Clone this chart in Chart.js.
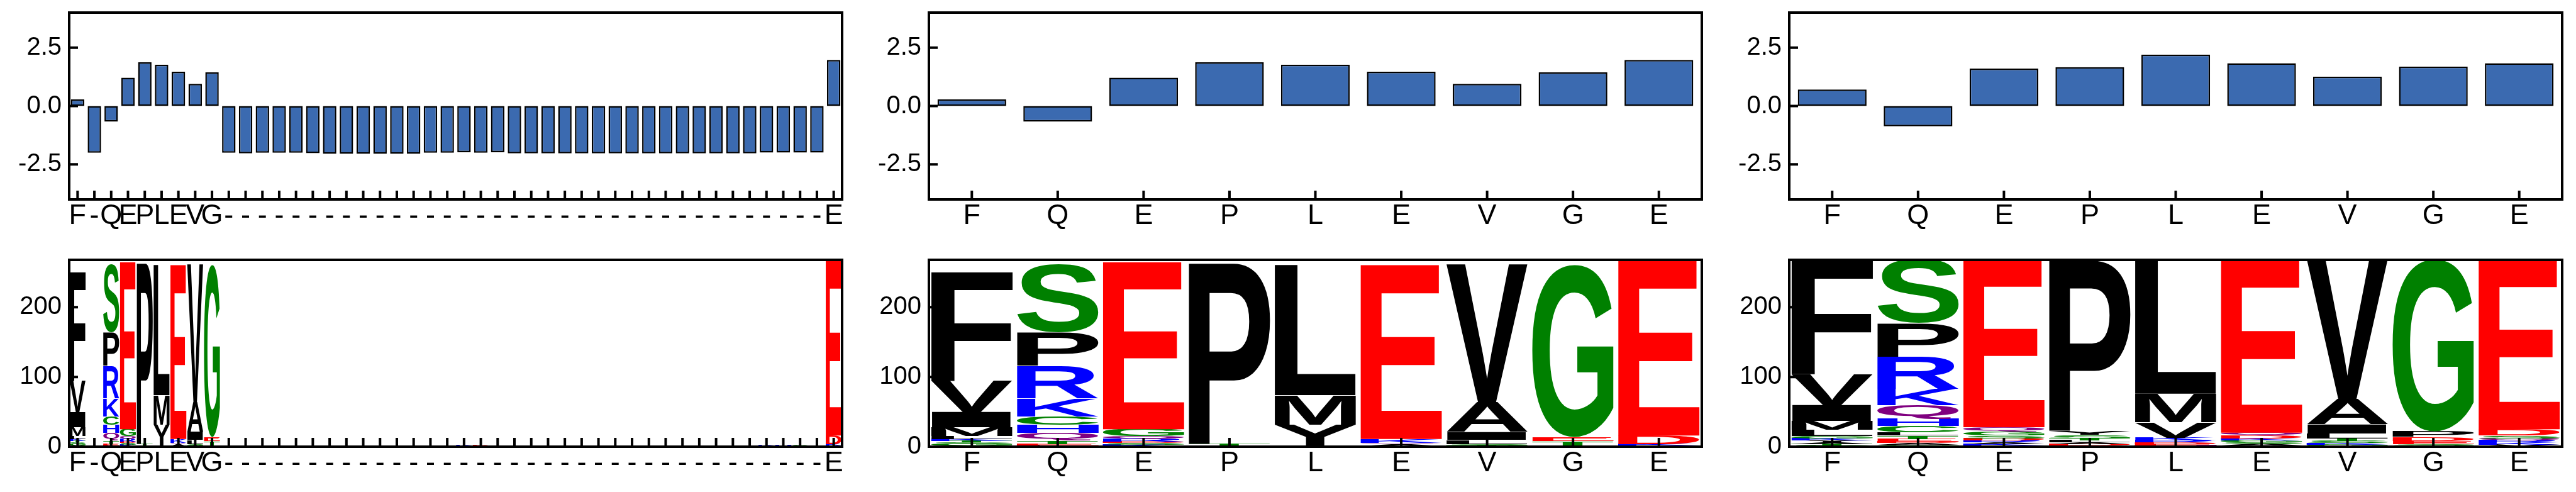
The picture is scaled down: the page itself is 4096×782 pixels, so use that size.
<!DOCTYPE html>
<html>
<head>
<meta charset="utf-8">
<script src="https://cdn.jsdelivr.net/npm/chart.js@4.4.1/dist/chart.umd.min.js"></script>
<style>
html, body { margin: 0; padding: 0; background: #fff; width: 4096px; height: 782px; overflow: hidden; }
canvas { position: absolute; }
</style>
</head>
<body>
<canvas id="scoreA"></canvas>
<canvas id="scoreB"></canvas>
<canvas id="scoreC"></canvas>
<canvas id="logoA"></canvas>
<canvas id="logoB"></canvas>
<canvas id="logoC"></canvas>
<script>
// --- data ---
const labelsFull = ['F','-','Q','E','P','L','E','V','G',
  '-','-','-','-','-','-','-','-','-','-','-','-','-','-','-','-','-','-',
  '-','-','-','-','-','-','-','-','-','-','-','-','-','-','-','-','-','-','E'];
const labelsCore = ['F','Q','E','P','L','E','V','G','E'];

const scoreFull = [0.28, -2.00, -0.67, 1.21, 1.87, 1.77, 1.47, 0.95, 1.44,
  -2.00, -2.03, -2.00, -2.00, -2.00, -2.02, -2.05, -2.05, -2.05, -2.05, -2.05, -2.05,
  -2.00, -2.00, -1.98, -2.00, -1.98,
  -2.03, -2.03, -2.03, -2.03, -2.03, -2.03, -2.03, -2.03, -2.03, -2.03, -2.03, -2.03, -2.03, -2.03, -2.03,
  -1.99, -1.99, -1.99, -1.99, 1.97];
const scoreMid = [0.28, -0.67, 1.21, 1.87, 1.77, 1.47, 0.95, 1.44, 1.97];
const scoreRight = [0.71, -0.87, 1.60, 1.66, 2.20, 1.83, 1.26, 1.69, 1.83];

const scoreTicks = [-2.5, 0, 2.5];
const countTicks = [0, 100, 200];

// letter counts per position
const logoMid = [
  [['F',157],['V',45],['I',22],['M',13],['L',4],['K',3],['Y',2],['G',2],['S',2],['T',2]],
  [['S',97],['P',48],['R',47],['K',26],['C',12],['Q',11],['H',11],['T',5],['L',2],['E',2]],
  [['E',240],['G',10],['R',4],['Q',4],['K',2],['S',2],['D',2],['A',1]],
  [['P',261],['T',2],['L',1],['S',1]],
  [['L',187],['M',42],['Y',30],['G',1],['R',1]],
  [['E',250],['K',6],['A',2],['Q',2],['R',1]],
  [['V',198],['A',43],['I',11],['L',6],['T',2],['S',2]],
  [['G',247],['T',6],['E',6],['D',1],['S',1]],
  [['E',252],['D',12],['Q',2],['K',2]]
];
const logoRight = [
  [['F',165],['V',44],['I',23],['M',13],['L',9],['Y',3],['K',3],['G',3],['S',2],['T',2],['A',2]],
  [['S',92],['P',48],['R',46],['K',23],['Q',20],['H',10],['C',9],['T',5],['L',5],['E',4],['A',2],['D',2],['M',1],['N',1],['G',1]],
  [['E',241],['G',6],['Q',6],['S',4],['R',3],['D',3],['K',2],['A',2],['T',1],['H',1]],
  [['P',246],['Y',6],['S',5],['L',3],['T',3],['D',2],['A',2],['R',1],['K',1]],
  [['L',193],['M',41],['V',22],['K',4],['R',3],['H',2],['E',2],['D',2]],
  [['E',249],['D',4],['Q',4],['G',3],['K',3],['A',2],['S',2],['T',1],['R',1]],
  [['V',201],['A',36],['I',13],['L',7],['T',4],['S',3],['G',2],['K',2],['R',1]],
  [['G',247],['P',8],['D',6],['E',4],['S',2],['A',1],['T',1]],
  [['E',244],['D',9],['S',4],['K',3],['R',3],['Q',3],['V',2],['L',1]]
];
// gap positions of the full alignment (indices 9..44)
const logoGaps = [[],[],[],[],[],[],[],[],[],[],[],[],
  [['G',1]],[['S',1]],[['K',2]],[['D',2]],
  [],[],[],[],[],[],[],[],[],[],[],[],[],[],[],[],
  [['K',2]],[['H',2]],[['S',2]],[['L',1]]];
const logoFull = [logoMid[0], [], ...logoMid.slice(1, 8), ...logoGaps, logoMid[8]];

const letterColor = {
  A:'#000', V:'#000', L:'#000', I:'#000', P:'#000', F:'#000', W:'#000', M:'#000', Y:'#000',
  G:'#008000', S:'#008000', T:'#008000', C:'#008000',
  N:'#800080', Q:'#800080',
  K:'#0000ff', R:'#0000ff', H:'#0000ff',
  D:'#ff0000', E:'#ff0000'
};

// --- layout (px) ---
const AX_W = 110, TOP_PAD = 15, RIGHT_PAD = 20, X_H = 60;
const PLOT_W = 1229, PLOT_H = 297;
const colLeft = [110, 1477, 2845];
const rowTop = [20, 413];

Chart.defaults.font.family = '"Liberation Sans", Arial, sans-serif';
Chart.defaults.color = '#000';

const framePlugin = {
  id: 'frame',
  afterDraw(chart) {
    const { ctx, chartArea: a, scales } = chart;
    ctx.save();
    ctx.strokeStyle = '#000';
    ctx.lineWidth = 4;
    ctx.beginPath();
    scales.y.ticks.forEach(t => {
      const y = scales.y.getPixelForValue(t.value);
      ctx.moveTo(a.left, y); ctx.lineTo(a.left + 14, y);
    });
    scales.x.ticks.forEach((t, i) => {
      const x = scales.x.getPixelForTick(i);
      ctx.moveTo(x, a.bottom); ctx.lineTo(x, a.bottom - 14);
    });
    ctx.stroke();
    ctx.strokeRect(a.left, a.top, a.right - a.left, a.bottom - a.top);
    ctx.restore();
  }
};

function drawGlyph(ctx, letter, left, top, w, h, color) {
  ctx.save();
  ctx.font = 'bold 200px "Liberation Sans", Arial, sans-serif';
  ctx.textAlign = 'left';
  ctx.textBaseline = 'alphabetic';
  const m = ctx.measureText(letter);
  const gl = m.actualBoundingBoxLeft, ga = m.actualBoundingBoxAscent;
  const gw = gl + m.actualBoundingBoxRight, gh = ga + m.actualBoundingBoxDescent;
  ctx.translate(left, top);
  ctx.scale(w / gw, h / gh);
  ctx.fillStyle = color;
  ctx.fillText(letter, gl, ga);
  ctx.restore();
}

const logoPlugin = {
  id: 'logo',
  afterDatasetsDraw(chart) {
    const { ctx, chartArea: a } = chart;
    ctx.save();
    ctx.beginPath();
    ctx.rect(a.left, a.top, a.right - a.left, a.bottom - a.top);
    ctx.clip();
    chart.data.datasets.forEach((ds, di) => {
      chart.getDatasetMeta(di).data.forEach((bar, i) => {
        const letter = ds.letters[i];
        if (!letter || !ds.data[i]) return;
        const p = bar.getProps(['x', 'y', 'base', 'width'], true);
        const top = Math.min(p.y, p.base), h = Math.abs(p.base - p.y);
        drawGlyph(ctx, letter, p.x - p.width / 2, top, p.width, h, letterColor[letter]);
      });
    });
    ctx.restore();
  }
};

function axes(yMin, yMax, yTicks, fmt, stacked) {
  return {
    x: {
      stacked: stacked,
      grid: { display: false, drawTicks: false },
      border: { display: false },
      ticks: { autoSkip: false, maxRotation: 0, minRotation: 0, padding: 0, font: { size: 45 } },
      afterFit: s => { s.height = X_H; s.paddingLeft = 0; s.paddingRight = 0; }
    },
    y: {
      stacked: stacked,
      min: yMin, max: yMax,
      grid: { display: false, drawTicks: false },
      border: { display: false },
      ticks: { padding: 12, font: { size: 40 }, callback: v => fmt(v) },
      afterBuildTicks: s => { s.ticks = yTicks.map(v => ({ value: v })); },
      afterFit: s => { s.width = AX_W; s.paddingTop = 0; s.paddingBottom = 0; }
    }
  };
}

function place(id, col, row) {
  const c = document.getElementById(id);
  c.width = AX_W + PLOT_W + RIGHT_PAD;
  c.height = TOP_PAD + PLOT_H + X_H;
  c.style.left = (colLeft[col] - AX_W) + 'px';
  c.style.top = (rowTop[row] - TOP_PAD) + 'px';
  return c;
}

function scoreChart(id, col, labels, values) {
  new Chart(place(id, col, 0), {
    type: 'bar',
    data: {
      labels: labels,
      datasets: [{
        data: values,
        backgroundColor: '#3b6ab0',
        borderColor: '#000',
        borderWidth: 2.5,
        borderSkipped: false,
        barPercentage: 0.8,
        categoryPercentage: 1.0
      }]
    },
    options: {
      responsive: false, animation: false, devicePixelRatio: 1,
      layout: { padding: { top: TOP_PAD, right: RIGHT_PAD, left: 0, bottom: 0 } },
      plugins: { legend: { display: false }, tooltip: { enabled: false } },
      scales: axes(-4, 4, scoreTicks, v => v.toFixed(1), false)
    },
    plugins: [framePlugin]
  });
}

function logoChart(id, col, labels, columns) {
  const sorted = columns.map(c => c.slice().sort((p, q) => p[1] - q[1]));
  const depth = Math.max(...sorted.map(c => c.length));
  const datasets = [];
  for (let r = 0; r < depth; r++) {
    datasets.push({
      data: sorted.map(c => (c[r] ? c[r][1] : 0)),
      letters: sorted.map(c => (c[r] ? c[r][0] : '')),
      backgroundColor: 'rgba(0,0,0,0)',
      borderWidth: 0,
      barPercentage: 0.95,
      categoryPercentage: 1.0
    });
  }
  new Chart(place(id, col, 1), {
    type: 'bar',
    data: { labels: labels, datasets: datasets },
    options: {
      responsive: false, animation: false, devicePixelRatio: 1,
      layout: { padding: { top: TOP_PAD, right: RIGHT_PAD, left: 0, bottom: 0 } },
      plugins: { legend: { display: false }, tooltip: { enabled: false } },
      scales: axes(0, 268, countTicks, v => String(v), true)
    },
    plugins: [logoPlugin, framePlugin]
  });
}

scoreChart('scoreA', 0, labelsFull, scoreFull);
scoreChart('scoreB', 1, labelsCore, scoreMid);
scoreChart('scoreC', 2, labelsCore, scoreRight);
logoChart('logoA', 0, labelsFull, logoFull);
logoChart('logoB', 1, labelsCore, logoMid);
logoChart('logoC', 2, labelsCore, logoRight);
</script>
</body>
</html>
